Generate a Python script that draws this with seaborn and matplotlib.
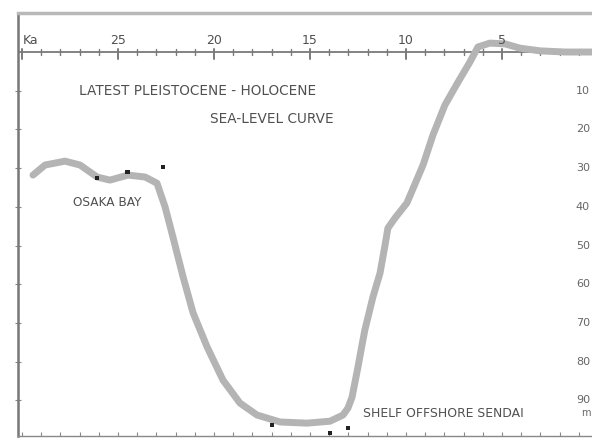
import numpy as np
import pandas as pd
import matplotlib
matplotlib.use("Agg")
import matplotlib.pyplot as plt
import seaborn as sns

# sea-level curve, age in ka BP and depth below present sea level in m
age_ka = [29.43, 28.8, 27.76, 26.98, 26.09, 25.42, 24.48, 23.59, 22.97, 22.55,
          22.14, 21.61, 21.09, 20.36, 19.53, 18.65, 17.76, 16.56, 15.16, 13.96,
          13.28, 13.02, 12.81, 12.5, 12.29, 12.14, 11.72, 11.35, 11.09, 10.94,
          10.57, 9.95, 9.11, 8.59, 7.97, 7.29, 6.67, 6.25, 5.63, 4.84, 4.06,
          3.02, 1.72, 0.31]
depth_m = [31.8, 29.2, 28.2, 29.2, 32.3, 33.1, 31.8, 32.3, 33.9, 40.0,
           47.8, 58.1, 67.4, 76.2, 84.8, 90.7, 93.8, 95.6, 95.9, 95.4,
           93.8, 92.0, 89.2, 81.4, 75.7, 71.8, 63.3, 57.1, 49.9, 45.5,
           42.9, 39.0, 29.2, 21.4, 13.7, 7.8, 2.6, -1.3, -2.3, -2.1, -1.0,
           -0.3, 0.0, 0.0]

# dated samples
sample_age = [26.1, 24.5, 22.65, 16.98, 13.96, 13.02]
sample_depth = [32.6, 31.0, 29.7, 96.4, 98.4, 97.2]

age_labels = [25, 20, 15, 10, 5]
depth_labels = [10, 20, 30, 40, 50, 60, 70, 80, 90]

curve = pd.DataFrame({"age": age_ka, "depth": depth_m})
samples = pd.DataFrame({"age": sample_age, "depth": sample_depth})

sns.set_style("white")
txt = "#505050"

fig = plt.figure(figsize=(5.92, 4.38), dpi=100)
ax = fig.add_axes([18 / 592, 2 / 438, (620 - 18) / 592, (436 - 13) / 438])

sns.lineplot(data=curve, x="age", y="depth", sort=False, ax=ax,
             color="#b4b4b4", linewidth=5.0, solid_capstyle="round",
             solid_joinstyle="round", zorder=3)
sns.scatterplot(data=samples, x="age", y="depth", ax=ax, marker="s",
                s=10, color="#222222", edgecolor="none", zorder=4)

ax.set_xlim(30.21, -1.15)
ax.set_ylim(99.22, -10.08)

# zero line with age ticks
ax.axhline(0, color="#7a7a7a", lw=1.3, zorder=2)
for a in range(1, 31):
    big = a % 5 == 0
    ax.plot([a, a], [-0.9, 1.8 if big else 0.9], color="#7a7a7a",
            lw=1.4 if big else 1.0, zorder=2)
for a in age_labels:
    ax.text(a, -3.1, str(a), ha="center", va="center", fontsize=9,
            color=txt)
ax.text(29.95, -3.1, "Ka", ha="left", va="center", fontsize=9, color=txt)

# right-hand depth labels
for d in depth_labels:
    ax.text(1.15, d, str(d), ha="left", va="center", fontsize=8,
            color="#666666")
ax.text(0.85, 93.4, "m", ha="left", va="center", fontsize=7,
        color="#666666")

ax.text(20.83, 10.1, "LATEST PLEISTOCENE - HOLOCENE", ha="center",
        va="center", fontsize=9.8, color=txt)
ax.text(16.98, 17.3, "SEA-LEVEL CURVE", ha="center", va="center",
        fontsize=9.8, color=txt)
ax.text(25.55, 38.8, "OSAKA BAY", ha="center", va="center",
        fontsize=8.7, color=txt)
ax.text(12.24, 93.5, "SHELF OFFSHORE SENDAI", ha="left", va="center",
        fontsize=8.9, color=txt)

ax.set_xlabel("")
ax.set_ylabel("")
ax.set_xticks(range(1, 31))
ax.set_yticks(depth_labels)
ax.set_xticklabels([])
ax.set_yticklabels([])
ax.tick_params(axis="x", direction="in", length=3, color="#888888", width=0.8,
               bottom=True)
ax.tick_params(axis="y", direction="inout", length=4, color="#888888",
               width=0.8, left=True)
ax.spines["left"].set_color("#777777")
ax.spines["left"].set_linewidth(1.8)
ax.spines["top"].set_color("#b8b8b8")
ax.spines["top"].set_linewidth(2.5)
ax.spines["bottom"].set_color("#888888")
ax.spines["bottom"].set_linewidth(1.0)
ax.spines["right"].set_visible(False)

fig.savefig("out.png", dpi=100)
